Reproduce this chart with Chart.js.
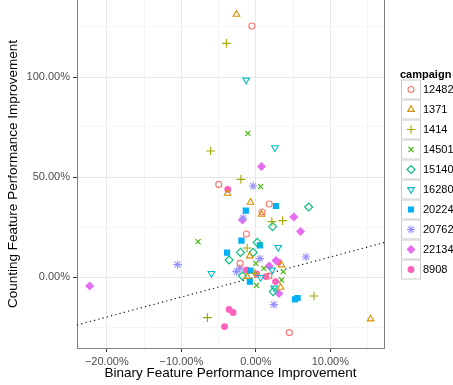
<!DOCTYPE html>
<html>
<head>
<meta charset="utf-8">
<script src="https://cdn.jsdelivr.net/npm/chart.js@4/dist/chart.umd.min.js"></script>
<style>
  body { margin: 0; background: #fff; }
  #wrap { width: 453px; height: 385px; position: relative; }
</style>
</head>
<body>
<div id="wrap"><canvas id="chart"></canvas></div>
<script>
// points as [binary improvement %, counting improvement %]
const c12482 = [[-0.54, 125.5], [-4.98, 46.3], [1.79, 36.5], [0.85, 32.5], [-1.26, 21.5], [-2.11, 6.8], [1.75, 0.5], [4.49, -27.8]];
const c1371 = [[-2.6, 131.3], [-3.8, 41.8], [-0.72, 37.3], [0.76, 31.3], [-0.81, 10.5], [3.45, 6.0], [-1.17, 0.2], [3.32, -5.2], [15.4, -21]];
const c1414 = [[-3.95, 116.8], [-6.06, 63], [-2.0, 48.8], [2.15, 27.7], [3.59, 28.2], [-1.17, 14.5], [-0.13, 1.8], [7.8, -9.5], [-6.5, -20.3]];
const c14501 = [[-1.08, 71.8], [0.63, 45.2], [-7.76, 17.7], [0, 6.8], [1.08, 4.3], [3.68, 2.7], [3.45, -1.5], [0.09, -4.2]];
const c15140 = [[7.09, 35], [2.24, 25.2], [0.18, 17.3], [-2.06, 12.3], [-0.36, 12.3], [-3.59, 8.5], [-1.8, 0.5], [2.33, -7.3]];
const c16280 = [[-1.3, 98.5], [2.56, 64.7], [3.0, 14.8], [2.2, 3.5], [-5.96, 1.8], [0.63, -0.2], [2.47, -5.5]];
const c20224 = [[2.69, 35.5], [-1.35, 33.2], [-1.93, 18.2], [0.54, 15.8], [-3.86, 12.2], [-0.72, 3.2], [-0.81, -2.3], [5.25, -11.2], [5.6, -10.5]];
const c20762 = [[-0.36, 45.5], [-1.7, 29.5], [0.54, 9.2], [6.73, 10], [-10.5, 6.2], [-2.6, 2.7], [-2.15, 4.3], [2.42, -13.8]];
const c22134 = [[0.76, 55.2], [-1.8, 28.5], [5.1, 30], [6.0, 22.8], [2.69, 8.2], [1.8, 5.5], [3.1, -8.2], [-22.3, -4.5]];
const c8908 = [[-3.77, 43.8], [3.0, 7.5], [-1.26, 3.5], [0.09, 1.5], [1.35, 0.2], [2.65, -2.3], [-3.59, -16.2], [-3.05, -17.7], [-4.2, -24.8]];

const campaigns = ['12482', '1371', '1414', '14501', '15140', '16280', '20224', '20762', '22134', '8908'];
const seriesData = [c12482, c1371, c1414, c14501, c15140, c16280, c20224, c20762, c22134, c8908];
const colours = ['#F8766D', '#D89000', '#A3A500', '#39B600', '#00BF7D', '#00BFC4', '#00B0F6', '#9590FF', '#E76BF3', '#FF62BC'];
// y = x reference line
const diagonal = [-24, 17.2];

const xMin = -24, xMax = 17.2, yMin = -35.5, yMax = 138.5;

// marker look per campaign (shape, filled, radius, rotation)
const markers = [
    {style: 'circle', fill: false, r: 3, rot: 0},
    {style: 'triangle', fill: false, r: 3.8, rot: 0},
    {style: 'cross', fill: false, r: 4.3, rot: 0},
    {style: 'crossRot', fill: false, r: 3.6, rot: 0},
    {style: 'rectRot', fill: false, r: 4, rot: 0},
    {style: 'triangle', fill: false, r: 3.8, rot: 180},
    {style: 'rect', fill: true, r: 3.6, rot: 0},
    {style: 'star', fill: false, r: 4.2, rot: 0},
    {style: 'rectRot', fill: true, r: 3.7, rot: 0},
    {style: 'circle', fill: true, r: 2.9, rot: 0}
];

const fontFamily = '"Liberation Sans", Arial, Helvetica, sans-serif';

const datasets = campaigns.map(function (name, i) {
    const m = markers[i];
    return {
        type: 'scatter',
        label: name,
        data: seriesData[i].map(p => ({x: p[0], y: p[1]})),
        pointStyle: m.style,
        rotation: m.rot,
        pointRadius: m.r,
        pointHoverRadius: m.r,
        borderWidth: 1.1,
        borderColor: colours[i],
        backgroundColor: m.fill ? colours[i] : 'rgba(0,0,0,0)'
    };
});

datasets.push({
    type: 'line',
    label: 'diagonal',
    data: diagonal.map(v => ({x: v, y: v})),
    borderColor: '#000',
    borderWidth: 1.1,
    borderDash: [1.2, 3.2],
    pointRadius: 0,
    fill: false
});

// panel right edge + legend like ggplot
const extras = {
    id: 'extras',
    afterDraw(chart) {
        const ctx = chart.ctx;
        const a = chart.chartArea;
        ctx.save();
        ctx.strokeStyle = '#7F7F7F';
        ctx.lineWidth = 1;
        ctx.beginPath();
        ctx.moveTo(Math.round(a.right) + 0.5, 0);
        ctx.lineTo(Math.round(a.right) + 0.5, Math.round(a.bottom) + 0.5);
        ctx.stroke();

        const lx = 401, top = 79.5, rowH = 20, boxW = 20;
        ctx.fillStyle = '#000';
        ctx.font = 'bold 11px ' + fontFamily;
        ctx.textBaseline = 'middle';
        ctx.textAlign = 'left';
        ctx.fillText('campaign', 400, 75);
        ctx.font = '11px ' + fontFamily;
        campaigns.forEach(function (name, i) {
            const y0 = top + i * rowH;
            ctx.fillStyle = '#fff';
            ctx.fillRect(lx, y0, boxW, rowH);
            ctx.strokeStyle = '#CCCCCC';
            ctx.lineWidth = 1;
            ctx.strokeRect(lx + 0.5, y0 + 0.5, boxW - 1, rowH - 1);
            const m = markers[i];
            ctx.strokeStyle = colours[i];
            ctx.fillStyle = m.fill ? colours[i] : 'rgba(0,0,0,0)';
            ctx.lineWidth = 1.1;
            Chart.helpers.drawPoint(ctx, {pointStyle: m.style, rotation: m.rot, radius: m.r, borderWidth: 1.1},
                lx + boxW / 2, y0 + rowH / 2);
            ctx.fillStyle = '#000';
            ctx.fillText(name, 423, y0 + rowH / 2 + 0.5);
        });
        ctx.restore();
    }
};

function pctLabel(v) {
    return (v < 0 ? '\u2212' : '') + Math.abs(v).toFixed(2) + '%';
}

new Chart(document.getElementById('chart'), {
    type: 'scatter',
    data: {datasets: datasets},
    plugins: [extras],
    options: {
        responsive: true,
        maintainAspectRatio: false,
        animation: false,
        layout: {autoPadding: false, padding: {left: 0, right: 69, top: 0, bottom: 0}},
        plugins: {legend: {display: false}, tooltip: {enabled: false}},
        scales: {
            x: {
                type: 'linear',
                min: xMin,
                max: xMax,
                afterFit: function (scale) {
                    scale.height = 37;
                    scale.paddingLeft = 0;
                    scale.paddingRight = 0;
                },
                ticks: {
                    stepSize: 5,
                    includeBounds: false,
                    autoSkip: false,
                    maxRotation: 0,
                    padding: 3,
                    color: '#4D4D4D',
                    font: {family: fontFamily, size: 11},
                    callback: function (value) { return value % 10 === 0 ? pctLabel(value) : ''; }
                },
                grid: {
                    color: ctx => (ctx.tick && ctx.tick.value % 10 === 0) ? '#E8E8E8' : '#F5F5F5',
                    tickColor: ctx => (ctx.tick && ctx.tick.value % 10 === 0) ? '#333333' : 'rgba(0,0,0,0)',
                    tickLength: 4
                },
                border: {color: '#7F7F7F'},
                title: {
                    display: true,
                    text: 'Binary Feature Performance Improvement',
                    color: '#000',
                    font: {family: fontFamily, size: 13.5},
                    padding: {top: 0, bottom: 4}
                }
            },
            y: {
                type: 'linear',
                min: yMin,
                max: yMax,
                afterFit: function (scale) {
                    scale.width = 77;
                    scale.paddingTop = 0;
                    scale.paddingBottom = 0;
                },
                ticks: {
                    stepSize: 25,
                    includeBounds: false,
                    autoSkip: false,
                    padding: 3,
                    color: '#4D4D4D',
                    font: {family: fontFamily, size: 11},
                    callback: function (value) { return value % 50 === 0 ? pctLabel(value) : ''; }
                },
                grid: {
                    color: ctx => (ctx.tick && ctx.tick.value % 50 === 0) ? '#E8E8E8' : '#F5F5F5',
                    tickColor: ctx => (ctx.tick && ctx.tick.value % 50 === 0) ? '#333333' : 'rgba(0,0,0,0)',
                    tickLength: 4
                },
                border: {color: '#7F7F7F'},
                title: {
                    display: true,
                    text: 'Counting Feature Performance Improvement',
                    color: '#000',
                    font: {family: fontFamily, size: 13.5},
                    padding: {top: 5, bottom: 0}
                }
            }
        }
    }
});
</script>
</body>
</html>
